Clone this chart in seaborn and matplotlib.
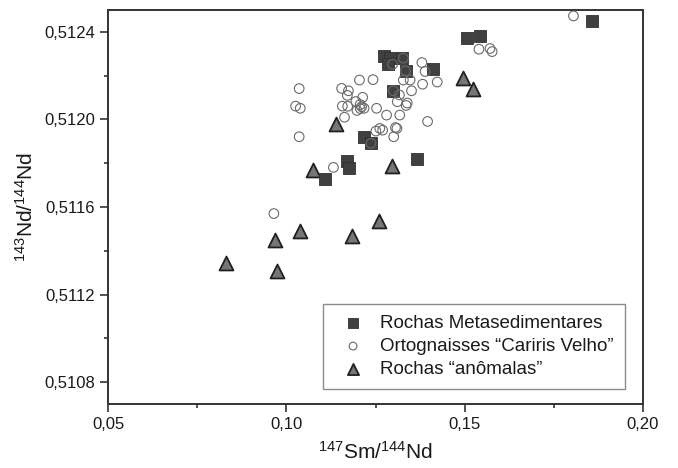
import matplotlib
matplotlib.use("Agg")
import matplotlib.pyplot as plt
import seaborn as sns
from matplotlib.ticker import FixedLocator

# 147Sm/144Nd versus 143Nd/144Nd by rock group
meta_x = [0.1858, 0.1507, 0.1544, 0.1275, 0.1291, 0.1324, 0.1284, 0.1336,
          0.1411, 0.1300, 0.1218, 0.1237, 0.1171, 0.1177, 0.1108, 0.1367]
meta_y = [0.512452, 0.512371, 0.512382, 0.512290, 0.512280, 0.512281, 0.512252, 0.512222,
          0.512231, 0.512131, 0.511921, 0.511891, 0.511810, 0.511780, 0.511730, 0.511820]

orto_x = [0.1805, 0.1540, 0.1571, 0.1577, 0.1036, 0.1026, 0.1039, 0.1036, 0.0965,
          0.1132, 0.1155, 0.1174, 0.1171, 0.1205, 0.1243, 0.1214, 0.1157, 0.1172,
          0.1163, 0.1195, 0.1207, 0.1211, 0.1198, 0.1218, 0.1207, 0.1253, 0.1281,
          0.1318, 0.1251, 0.1262, 0.1270, 0.1301, 0.1306, 0.1310, 0.1298, 0.1328,
          0.1334, 0.1380, 0.1389, 0.1328, 0.1347, 0.1382, 0.1423, 0.1351, 0.1317,
          0.1311, 0.1339, 0.1336, 0.1396, 0.1300, 0.1237]
orto_y = [0.512473, 0.512321, 0.512324, 0.512310, 0.512141, 0.512061, 0.512051, 0.511921,
          0.511570, 0.511781, 0.512142, 0.512131, 0.512110, 0.512180, 0.512182, 0.512101,
          0.512061, 0.512060, 0.512010, 0.512082, 0.512068, 0.512058, 0.512041, 0.512051,
          0.512050, 0.512051, 0.512020, 0.512020, 0.511947, 0.511959, 0.511951, 0.511921,
          0.511963, 0.511959, 0.512252, 0.512280, 0.512222, 0.512260, 0.512219, 0.512180,
          0.512180, 0.512161, 0.512171, 0.512131, 0.512112, 0.512081, 0.512075, 0.512064,
          0.511991, 0.512131, 0.511891]

anom_x = [0.0831, 0.0967, 0.0973, 0.1038, 0.1185, 0.1260, 0.1076, 0.1297, 0.1139,
          0.1494, 0.1523]
anom_y = [0.511346, 0.511448, 0.511308, 0.511489, 0.511466, 0.511537, 0.511767, 0.511788,
          0.511978, 0.512188, 0.512138]

series_labels = ["Rochas Metasedimentares",
                 "Ortognaisses \u201cCariris Velho\u201d",
                 "Rochas \u201can\u00f4malas\u201d"]

x_ticks = [0.05, 0.10, 0.15, 0.20]
x_tick_labels = ["0,05", "0,10", "0,15", "0,20"]
x_minor = [0.075, 0.125, 0.175]
y_ticks = [0.5108, 0.5112, 0.5116, 0.5120, 0.5124]
y_tick_labels = ["0,5108", "0,5112", "0,5116", "0,5120", "0,5124"]
y_minor = [0.5110, 0.5114, 0.5118, 0.5122]

sns.set_style("ticks")
plt.rcParams["font.family"] = ["Liberation Sans", "DejaVu Sans"]
plt.rcParams["mathtext.fontset"] = "custom"
plt.rcParams["mathtext.rm"] = "Liberation Sans"
plt.rcParams["mathtext.it"] = "Liberation Sans:italic"
plt.rcParams["mathtext.bf"] = "Liberation Sans:bold"

fig = plt.figure(figsize=(6.78, 4.68), dpi=100)
ax = fig.add_axes([0.1593, 0.1368, 0.7891, 0.8418])

sns.scatterplot(x=anom_x, y=anom_y, marker="^", s=100, color="#767676",
                edgecolor="#202020", linewidth=1.3, ax=ax, label=series_labels[2], zorder=3)
sns.scatterplot(x=meta_x, y=meta_y, marker="s", s=74, color="#404040",
                edgecolor="#303030", linewidth=0.6, ax=ax, label=series_labels[0], zorder=4)
sns.scatterplot(x=orto_x, y=orto_y, marker="o", s=48, color="none",
                edgecolor="#6a6a6a", linewidth=0.8, ax=ax, label=series_labels[1], zorder=5)

ax.set_xlim(0.05, 0.20)
ax.set_ylim(0.5107, 0.5125)
ax.set_xticks(x_ticks, x_tick_labels)
ax.set_yticks(y_ticks, y_tick_labels)
ax.xaxis.set_minor_locator(FixedLocator(x_minor))
ax.yaxis.set_minor_locator(FixedLocator(y_minor))
ax.tick_params(which="major", direction="out", length=5.5, width=1.2,
               color="#333333", labelsize=12, labelcolor="#1a1a1a", pad=4)
ax.tick_params(which="minor", direction="out", length=3, width=1.2, color="#333333")

for side in ["left", "right", "top", "bottom"]:
    ax.spines[side].set_visible(True)
    ax.spines[side].set_color("#333333")
    ax.spines[side].set_linewidth(1.4)

ax.set_xlabel(r"$^{147}$Sm/$^{144}$Nd", fontsize=15, color="#1a1a1a", labelpad=6)
ax.set_ylabel(r"$^{143}$Nd/$^{144}$Nd", fontsize=15, color="#1a1a1a", labelpad=5)

handles, labels = ax.get_legend_handles_labels()
order = [1, 2, 0]
leg = ax.legend([handles[i] for i in order], [labels[i] for i in order],
                loc="lower left", bbox_to_anchor=(0.402, 0.038), borderaxespad=0,
                fontsize=13.5, frameon=True, fancybox=False, framealpha=1,
                edgecolor="#8c8c8c", handletextpad=0.45, labelspacing=0.3,
                borderpad=0.6, markerscale=0.8)
leg.get_frame().set_linewidth(1.0)
for t in leg.get_texts():
    t.set_color("#1a1a1a")

fig.savefig("out.png", dpi=100)
